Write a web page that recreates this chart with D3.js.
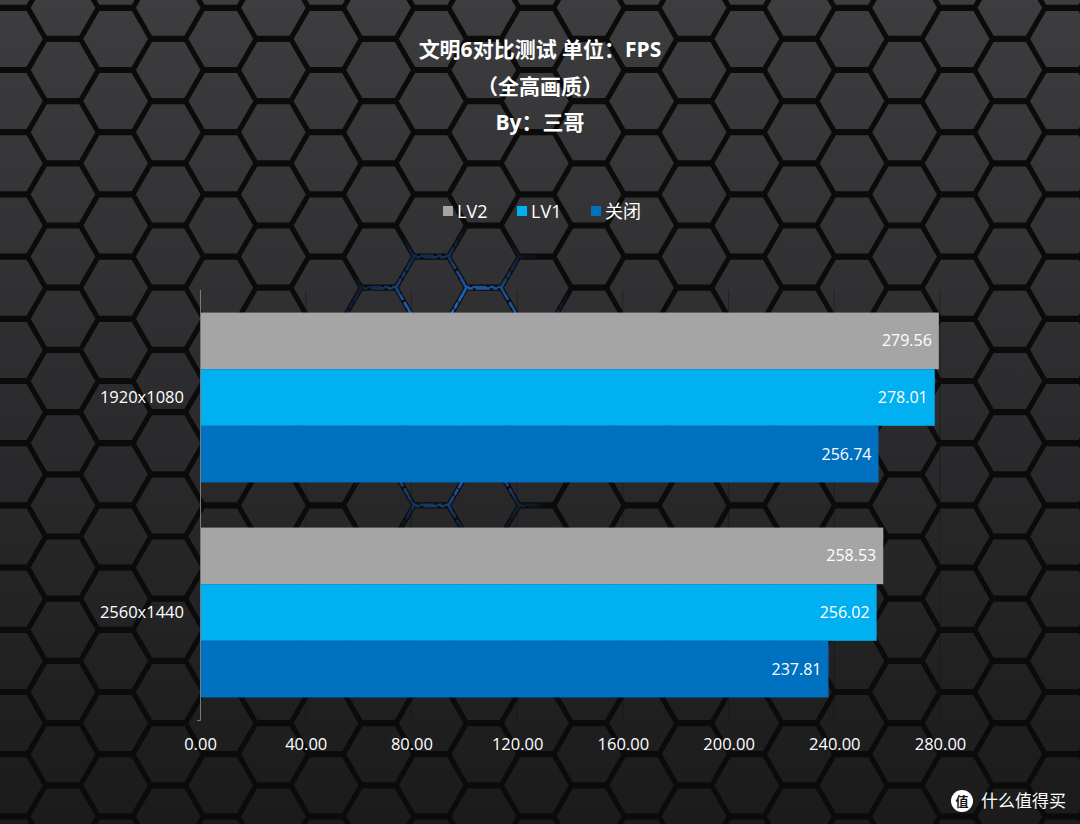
<!DOCTYPE html>
<html><head><meta charset="utf-8">
<script src="https://cdn.jsdelivr.net/npm/d3@7"></script>
<style>html,body{margin:0;padding:0;background:#222;}svg{display:block;}</style>
</head><body>
<div id="chart"></div>
<script>
const categories = ["1920x1080", "2560x1440"];
const seriesNames = ["LV2", "LV1", "关闭"];
const seriesColors = ["#a5a5a5", "#00b0f0", "#0070c0"];
const valuesLV2 = [279.56, 258.53];
const valuesLV1 = [278.01, 256.02];
const valuesOff = [256.74, 237.81];
const xTicks = [0, 40, 80, 120, 160, 200, 240, 280];
const titleLines = ["文明6对比测试 单位：FPS", "（全高画质）", "By：三哥"];

const W = 1080, H = 824;
const svg = d3.select("#chart").append("svg").attr("width", W).attr("height", H);
const defs = svg.append("defs");

// background gradient
const bg = defs.append("linearGradient").attr("id","bg").attr("x1",0).attr("y1",0).attr("x2",0).attr("y2",1);
bg.append("stop").attr("offset","0%").attr("stop-color","#3d3d3f");
bg.append("stop").attr("offset","45%").attr("stop-color","#2d2d2f");
bg.append("stop").attr("offset","100%").attr("stop-color","#1b1b1c");
svg.append("rect").attr("width",W).attr("height",H).attr("fill","url(#bg)");

// hexagon pattern
const R = 35.1, colStep = 52.6, rowStep = 62.2;
const hexPath = (cx, cy) => {
  const pts = d3.range(6).map(i => {
    const a = Math.PI / 3 * i;
    return [cx + R * Math.cos(a), cy + R * Math.sin(a)];
  });
  return "M" + pts.map(p => p.join(",")).join("L") + "Z";
};
let hexD = "";
for (let k = -2; k <= 21; k++) {
  const cx = 63 + colStep * k;
  const off = (Math.abs(k) % 2 === 1) ? rowStep / 2 : 0;
  for (let j = -2; j <= 14; j++) {
    const cy = 70 + rowStep * j + off;
    hexD += hexPath(cx, cy);
  }
}
svg.append("path").attr("d", hexD).attr("fill","none")
  .attr("stroke","#0b0b0b").attr("stroke-width",4.8).attr("stroke-linejoin","round");

// blue glow in seams
const rg = defs.append("radialGradient").attr("id","glow").attr("cx",0.5).attr("cy",0.5).attr("r",0.5);
rg.append("stop").attr("offset","0%").attr("stop-color","#fff").attr("stop-opacity",1);
rg.append("stop").attr("offset","60%").attr("stop-color","#fff").attr("stop-opacity",0.7);
rg.append("stop").attr("offset","100%").attr("stop-color","#fff").attr("stop-opacity",0);
const mask = defs.append("mask").attr("id","glowMask");
mask.append("ellipse").attr("cx",455).attr("cy",385).attr("rx",140).attr("ry",160).attr("fill","url(#glow)");
svg.append("path").attr("d", hexD).attr("fill","none")
  .attr("stroke","#2a7cf2").attr("stroke-width",2.6).attr("stroke-dasharray","14,3,5,3")
  .attr("mask","url(#glowMask)");

// scales
const x = d3.scaleLinear().domain([0, 280]).range([200, 940]);
const y = d3.scaleBand().domain(categories).range([290, 720]).paddingInner(0.21).paddingOuter(0.105);
const ys = d3.scaleBand().domain(seriesNames).range([0, y.bandwidth()]);
const font = "'Open Sans','Noto Sans','Noto Sans CJK SC',sans-serif";

// gridlines
svg.append("g").selectAll("line").data(xTicks.slice(1)).join("line")
  .attr("x1", d => x(d)).attr("x2", d => x(d)).attr("y1", 290).attr("y2", 720)
  .attr("stroke", "#141414").attr("stroke-opacity", 0.45).attr("stroke-width", 1);

// bars
const seriesVals = [valuesLV2, valuesLV1, valuesOff];
const data = [];
categories.forEach((c, ci) => seriesNames.forEach((s, si) => data.push({c, s, si, v: seriesVals[si][ci]})));
const g = svg.append("g");
g.selectAll("rect").data(data).join("rect")
  .attr("x", x(0)).attr("y", d => y(d.c) + ys(d.s))
  .attr("width", d => x(d.v) - x(0)).attr("height", ys.bandwidth())
  .attr("fill", d => seriesColors[d.si]);
g.selectAll("text").data(data).join("text")
  .attr("x", d => x(d.v) - 7).attr("y", d => y(d.c) + ys(d.s) + ys.bandwidth() / 2)
  .attr("dy", "0.35em").attr("text-anchor", "end")
  .attr("fill", "#ffffff").attr("font-family", font).attr("font-size", 16)
  .text(d => d.v.toFixed(2));

// y axis
const yAxis = svg.append("g").attr("transform", `translate(${x(0)},0)`)
  .call(d3.axisLeft(y).tickSize(0).tickPadding(16));
yAxis.select(".domain").attr("stroke", "#7a7a7a").attr("stroke-width", 1)
  .attr("d", "M-3,720.5H0.5V290");
yAxis.selectAll("text").attr("fill", "#ffffff").attr("font-family", font).attr("font-size", 16.5);

// x axis
const xAxis = svg.append("g").attr("transform", "translate(0,722)")
  .call(d3.axisBottom(x).tickValues(xTicks).tickSize(0).tickPadding(16).tickFormat(d3.format(".2f")));
xAxis.select(".domain").remove();
xAxis.selectAll("text").attr("fill", "#ffffff").attr("font-family", font).attr("font-size", 16.5);

// title
svg.append("g").selectAll("text").data(titleLines).join("text")
  .attr("x", 540).attr("y", (d, i) => 57 + i * 36.5).attr("text-anchor", "middle")
  .attr("fill", "#ffffff").attr("font-weight", "bold")
  .attr("font-family", "'Open Sans','Noto Sans CJK SC',sans-serif").attr("font-size", 21)
  .text(d => d);

// legend
const legendX = [443, 517, 591];
const lg = svg.append("g");
seriesNames.forEach((s, i) => {
  lg.append("rect").attr("x", legendX[i]).attr("y", 206).attr("width", 10).attr("height", 10).attr("fill", seriesColors[i]);
  lg.append("text").attr("x", legendX[i] + 14).attr("y", 212).attr("dy", "0.36em")
    .attr("fill", "#ffffff").attr("font-family", font).attr("font-size", 18).text(s);
});

// watermark
svg.append("circle").attr("cx", 962).attr("cy", 801).attr("r", 11).attr("fill", "#ffffff");
svg.append("text").attr("x", 962).attr("y", 801).attr("dy", "0.36em").attr("text-anchor", "middle")
  .attr("fill", "#111").attr("font-weight", "bold").attr("font-family", "'Noto Sans CJK SC',sans-serif").attr("font-size", 13).text("值");
svg.append("text").attr("x", 981).attr("y", 801).attr("dy", "0.36em")
  .attr("fill", "#ffffff").attr("font-family", "'Noto Sans CJK SC',sans-serif").attr("font-size", 17).text("什么值得买");
</script>
</body></html>
